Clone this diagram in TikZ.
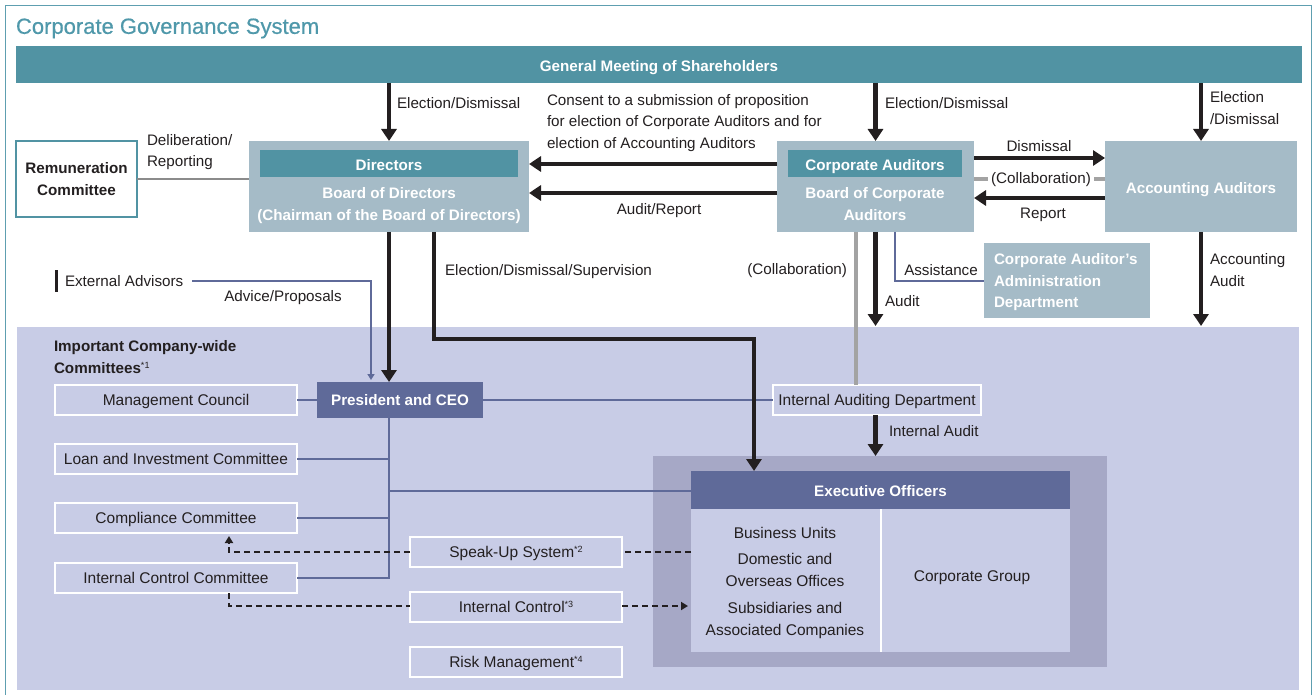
\documentclass[tikz,border=0pt]{standalone}
\usepackage{fontspec}
\setmainfont{Liberation Sans}
\newfontface\titleface{Liberation Sans}[FakeBold=0.6]
\usetikzlibrary{arrows.meta,calc}
\definecolor{teal1}{HTML}{5193A3}
\definecolor{titlec}{HTML}{4F98AA}
\definecolor{frame}{HTML}{5E9FB0}
\definecolor{bluegray}{HTML}{A5BBC7}
\definecolor{lav}{HTML}{C8CCE6}
\definecolor{lavdark}{HTML}{A6A8C6}
\definecolor{navy}{HTML}{5F6A99}
\definecolor{txt}{HTML}{231F20}
\definecolor{gline}{HTML}{A3A3A3}
\newcommand\regf{\fontsize{15.2}{21.5}\selectfont}
\newcommand\boxf{\fontsize{15.5}{22}\selectfont}
\newcommand\boldf{\fontsize{15.2}{21.5}\selectfont\bfseries}
\newcommand\supf[1]{\raisebox{5pt}{\fontsize{9}{9}\selectfont #1}}
\tikzset{
  every node/.style={inner sep=0pt, outer sep=0pt, text=txt},
  capc/.style={text height=10.9pt, text depth=0pt},
  capdown/.style={text height=14.9pt, text depth=0pt},
  lab/.style={font=\regf, align=left},
  bluebox/.style={fill=bluegray, text=white, font=\boldf, capdown},
  tealband/.style={fill=teal1, text=white, font=\boldf, capdown},
  wbox/.style={draw=white, line width=1.2pt, fill=lav, font=\boxf, capc},
  navybox/.style={fill=navy, text=white, font=\boldf, capc},
  bigarr/.style={draw=txt, line width=4.5pt, -{Triangle[width=15pt,length=12pt]}},
  blueline/.style={draw=navy, line width=2pt},
  grayline/.style={draw=gline, line width=4pt},
  dashline/.style={draw=txt, line width=1.8pt, dash pattern=on 6pt off 4pt},
  dasharr/.style={dashline, -{Triangle[width=8pt,length=7pt]}},
}
\begin{document}
\begin{tikzpicture}[x=1pt,y=-1pt]
\useasboundingbox (0,0) rectangle (1312,695);
\draw[frame, line width=1pt] (5,700) -- (5,6) -- (1311,6) -- (1311,700);
\node[anchor=west, font=\titleface\fontsize{22}{24}\selectfont, text=titlec, text height=15.7pt, text depth=0pt] (title) at (16,26) {Corporate Governance System};

% region
\node[fill=lav, minimum width=1282, minimum height=363] (region) at (658,508.5) {};

% boxes
\node[fill=teal1, minimum width=1286, minimum height=37, text=white, font=\boldf, capdown] (gm) at (659,64.5) {General Meeting of Shareholders};

\node[draw=teal1, line width=1.2pt, fill=white, minimum width=121, minimum height=76, font=\boldf, align=center] (rem) at (76.5,179) {Remuneration\\Committee};

\node[fill=bluegray, minimum width=280, minimum height=91] (bod) at (389,186.5) {};
\node[tealband, minimum width=258, minimum height=27] (dir) at (389,163.5) {Directors};
\node[text=white, font=\boldf, align=center] (bodt) at (389,205.5) {Board of Directors\\(Chairman of the Board of Directors)};

\node[fill=bluegray, minimum width=197, minimum height=91] (ca) at (875.5,186.5) {};
\node[tealband, minimum width=174, minimum height=27] (cab) at (875,163.5) {Corporate Auditors};
\node[text=white, font=\boldf, align=center] (cat) at (875,204) {Board of Corporate\\Auditors};

\node[bluebox, minimum width=192, minimum height=91] (acc) at (1201,186.5) {Accounting Auditors};

\node[fill=bluegray, minimum width=166, minimum height=75] (caad) at (1067,280.5) {};
\node[anchor=west, text=white, font=\boldf, align=left] (caadt) at (994,282.5) {Corporate Auditor's\\Administration\\Department};

\node[wbox, minimum width=242, minimum height=30, text height=11.9pt] (mc) at (176,400) {Management Council};
\node[navybox, minimum width=166, minimum height=36] (pres) at (400,400) {President and CEO};
\node[wbox, minimum width=208, minimum height=30, text height=11.9pt] (iad) at (877,400) {Internal Auditing Department};
\node[wbox, minimum width=242, minimum height=30] (loan) at (176,459) {Loan and Investment Committee};
\node[wbox, minimum width=242, minimum height=30] (comp) at (176,518) {Compliance Committee};
\node[wbox, minimum width=242, minimum height=30] (icc) at (176,578) {Internal Control Committee};
\node[wbox, minimum width=212, minimum height=30] (su) at (516,552) {Speak-Up System\supf{*2}};
\node[wbox, minimum width=212, minimum height=30] (ic) at (516,607) {Internal Control\supf{*3}};
\node[wbox, minimum width=212, minimum height=30] (rm) at (516,662) {Risk Management\supf{*4}};

\node[fill=lavdark, minimum width=454, minimum height=211] (exo) at (880,561.5) {};
\node[navybox, minimum width=379, minimum height=38, text height=13.9pt] (exh) at (880.5,490) {Executive Officers};
\node[fill=lav, minimum width=379, minimum height=143] (exb) at (880.5,580.5) {};
\draw[white, line width=2pt] (exb.north) -- (exb.south);
\node[font=\boxf] (bu) at (785,533) {Business Units};
\node[font=\boxf, align=center] (dom) at (785,570) {Domestic and\\Overseas Offices};
\node[font=\boxf, align=center] (sub) at (785,620) {Subsidiaries and\\Associated Companies};
\node[font=\boxf] (cg) at (972,578) {Corporate Group};

% labels
\node[lab, anchor=west] (l1) at (147,152) {Deliberation/\\Reporting};
\node[lab, anchor=west] (l2) at (397,103) {Election/Dismissal};
\node[lab, anchor=west] (l3) at (547,123) {Consent to a submission of proposition\\for election of Corporate Auditors and for\\election of Accounting Auditors};
\node[lab] (l4) at (659,211) {Audit/Report};
\node[lab, anchor=west] (l5) at (885,103) {Election/Dismissal};
\node[lab, anchor=west] (l6) at (1210,108) {Election\\/Dismissal};
\node[lab] (l7) at (1039,146) {Dismissal};
\node[lab] (l9) at (1043,215) {Report};
\node[lab] (l10) at (941,270) {Assistance};
\node[lab, anchor=west] (l11) at (885,301) {Audit};
\node[lab, anchor=east] (l12) at (847,271) {(Collaboration)};
\node[lab, anchor=west] (l13) at (1210,270) {Accounting\\Audit};
\node[lab, anchor=west] (l14) at (445,272) {Election/Dismissal/Supervision};
\node[lab, anchor=west] (ext) at (65,281) {External Advisors};
\draw[txt, line width=3pt] (56,270) -- (56,292);
\node[lab] (l15) at (283,298) {Advice/Proposals};
\node[font=\boldf, align=left, anchor=west] (l16) at (54,357) {Important Company-wide\\Committees{\mdseries\supf{*1}}};
\node[lab, anchor=west] (l17) at (889,431) {Internal Audit};

% helper coordinates
\coordinate (yconsent) at (0,164);
\coordinate (yaudrep) at (0,193);
\coordinate (ydis) at (0,158);
\coordinate (ycol) at (0,179);
\coordinate (yrep) at (0,198);
\coordinate (xcol) at (856,0);
\coordinate (xasst) at (895,0);
\coordinate (yasst) at (0,281);
\coordinate (xeds) at (434,0);
\coordinate (yeds) at (0,339);
\coordinate (xexarr) at (754,0);
\coordinate (xadv) at (371,0);
\coordinate (xtrunk) at (389,0);
\coordinate (ybranch) at (0,491);
\coordinate (xdash) at (229,0);
\coordinate (ysu) at (0,552);
\coordinate (yic) at (0,606);
\coordinate (yreg) at (0,326);
\coordinate (extend) at (192,281);

% gray lines
\draw[draw=gline!85!black, line width=1.5pt] (rem.east) -- (rem.east -| bod.west);
\draw[grayline] (ca.east |- ycol) -- (acc.west |- ycol);
\node[lab, fill=white, inner xsep=3pt, inner ysep=1pt] (l8) at (1041,180) {(Collaboration)};
\draw[grayline] (ca.south -| xcol) -- (iad.north -| xcol);

% blue lines
\draw[blueline] (ca.south -| xasst) -- (yasst -| xasst) -- (yasst -| caad.west);
\draw[draw=navy, line width=1.5pt, -{Triangle[width=7pt,length=6pt]}] (extend) -- (extend -| xadv) -- ($(pres.north -| xadv)+(0,-2)$);
\draw[blueline] (mc.east) -- (pres.west);
\draw[blueline] (pres.east) -- (iad.west);
\draw[blueline] (pres.south -| xtrunk) -- (icc.east -| xtrunk) -- (icc.east);
\draw[blueline] (loan.east) -- (loan.east -| xtrunk);
\draw[blueline] (comp.east) -- (comp.east -| xtrunk);
\draw[blueline] (ybranch -| xtrunk) -- (ybranch -| exh.west);

% black arrows
\draw[bigarr] (gm.south -| dir.north) -- (bod.north);
\draw[bigarr] (gm.south -| ca.north) -- (ca.north);
\draw[bigarr] (gm.south -| acc.north) -- (acc.north);
\draw[bigarr] (yconsent -| ca.west) -- (yconsent -| bod.east);
\draw[bigarr] (yaudrep -| ca.west) -- (yaudrep -| bod.east);
\draw[bigarr] (ydis -| ca.east) -- (ydis -| acc.west);
\draw[bigarr] (yrep -| acc.west) -- (yrep -| ca.east);
\draw[bigarr] (ca.south) -- (yreg -| ca.south);
\draw[bigarr] (acc.south) -- (yreg -| acc.south);
\draw[bigarr] (bod.south -| xtrunk) -- (pres.north -| xtrunk);
\draw[bigarr] (bod.south -| xeds) -- (yeds -| xeds) -- (yeds -| xexarr) -- (exh.north -| xexarr);
\draw[bigarr] (iad.south -| ca.south) -- (exo.north -| ca.south);

% dashed
\draw[dashline] (ysu -| exh.west) -- (su.east);
\draw[dasharr] (su.west) -- (ysu -| xdash) -- ($(comp.south -| xdash)+(0,3)$);
\draw[dashline] (icc.south -| xdash) -- (yic -| xdash) -- (yic -| ic.west);
\draw[dasharr] (yic -| ic.east) -- ($(yic -| exh.west)+(-3,0)$);
\end{tikzpicture}
\end{document}
